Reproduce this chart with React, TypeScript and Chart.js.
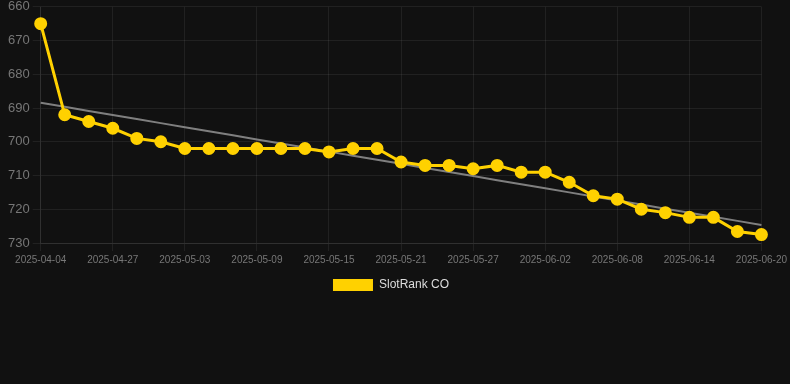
import React, { useEffect, useRef } from "react";
import { Chart, registerables } from "chart.js";

Chart.register(...registerables);

const dates = [
  "2025-04-04", "2025-04-23", "2025-04-25", "2025-04-27", "2025-04-29", "2025-05-01",
  "2025-05-03", "2025-05-05", "2025-05-07", "2025-05-09", "2025-05-11", "2025-05-13",
  "2025-05-15", "2025-05-17", "2025-05-19", "2025-05-21", "2025-05-23", "2025-05-25",
  "2025-05-27", "2025-05-29", "2025-05-31", "2025-06-02", "2025-06-04", "2025-06-06",
  "2025-06-08", "2025-06-10", "2025-06-12", "2025-06-14", "2025-06-16", "2025-06-18",
  "2025-06-20",
];

const rankValues = [
  665, 692, 694, 696, 699, 700, 702, 702, 702, 702, 702, 702, 703, 702, 702, 706,
  707, 707, 708, 707, 709, 709, 712, 716, 717, 720, 721, 722.4, 722.4, 726.6, 727.5,
];

const seriesLabel = "SlotRank CO";

function trendOf(values: number[]): number[] {
  const n = values.length;
  const mx = (n - 1) / 2;
  const my = values.reduce((a, b) => a + b, 0) / n;
  let num = 0;
  let den = 0;
  values.forEach((v, i) => {
    num += (i - mx) * (v - my);
    den += (i - mx) * (i - mx);
  });
  const slope = num / den;
  return values.map((_, i) => my + slope * (i - mx));
}

const FONT = "Liberation Sans, Arial, sans-serif";

export default function App() {
  const ref = useRef<HTMLCanvasElement | null>(null);

  useEffect(() => {
    document.body.style.margin = "0";
    document.body.style.background = "#111111";
    const ctx = ref.current;
    if (!ctx) return;
    const chart = new Chart(ctx, {
      type: "line",
      data: {
        labels: dates,
        datasets: [
          {
            label: seriesLabel,
            data: rankValues,
            borderColor: "#FFD100",
            backgroundColor: "#FFD100",
            borderWidth: 3,
            pointRadius: 5,
            pointHoverRadius: 5,
            pointBackgroundColor: "#FFD100",
            pointBorderColor: "#FFD100",
            tension: 0,
            order: 1,
          },
          {
            label: "trend",
            data: trendOf(rankValues),
            borderColor: "rgba(140,140,140,0.9)",
            borderWidth: 2,
            pointRadius: 0,
            fill: false,
            order: 2,
          },
        ],
      },
      options: {
        animation: false,
        responsive: false,
        maintainAspectRatio: false,
        layout: { padding: { left: 5, right: 13, top: 0, bottom: 83 } },
        plugins: {
          tooltip: { enabled: false },
          legend: {
            position: "bottom",
            labels: {
              color: "#dddddd",
              boxWidth: 40,
              boxHeight: 12,
              font: { family: FONT, size: 12 },
              filter: (item) => item.text !== "trend",
              generateLabels: (c: any) =>
                Chart.defaults.plugins.legend.labels
                  .generateLabels(c)
                  .map((l: any) => ({ ...l, lineWidth: 0 })),
            },
          },
        },
        scales: {
          x: {
            grid: {
              color: (c: any) =>
                c.index % 3 === 0 ? "rgba(255,255,255,0.07)" : "rgba(0,0,0,0)",
            },
            border: { color: "rgba(255,255,255,0.07)" },
            ticks: {
              autoSkip: false,
              maxRotation: 0,
              color: "#777777",
              font: { family: FONT, size: 10 },
              callback: function (this: any, v: any, i: number) {
                return i % 3 === 0 ? dates[i] : "";
              },
            },
          },
          y: {
            reverse: true,
            min: 660,
            max: 730,
            grid: { color: "rgba(255,255,255,0.07)" },
            border: { color: "rgba(255,255,255,0.07)" },
            ticks: {
              stepSize: 10,
              color: "#777777",
              font: { family: FONT, size: 13 },
            },
          },
        },
      },
    });
    return () => chart.destroy();
  }, []);

  return (
    <div style={{ width: 790, height: 384, background: "#111111", overflow: "hidden" }}>
      <canvas
        ref={ref}
        width={790}
        height={388}
        style={{ display: "block", marginTop: -4 }}
      />
    </div>
  );
}
